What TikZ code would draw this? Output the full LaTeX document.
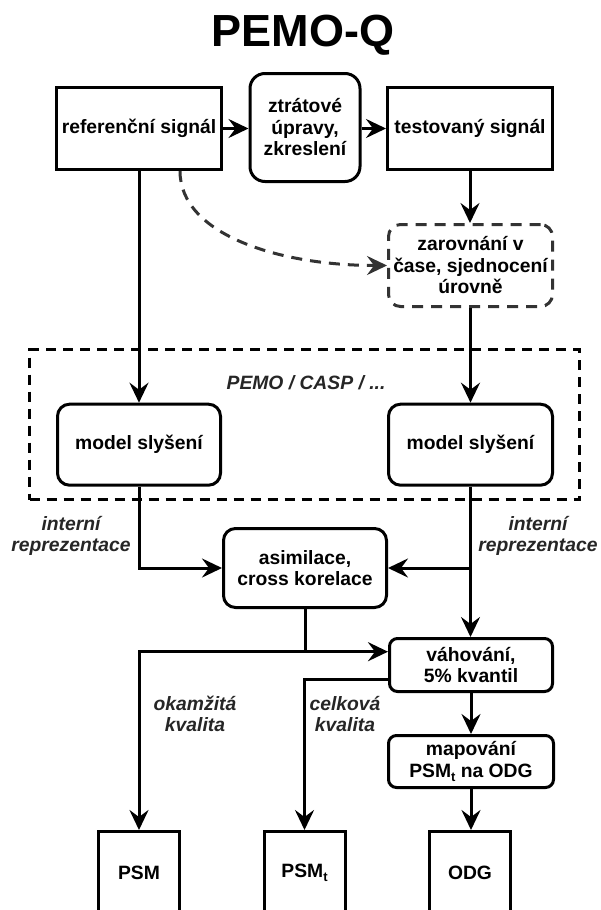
\documentclass[tikz,border=0pt]{standalone}
\usepackage{fontspec}
\setmainfont{Liberation Sans}
\usetikzlibrary{arrows.meta,calc}
\definecolor{dgray}{RGB}{51,51,51}
\newcommand{\subt}{\raisebox{-0.35ex}{\fontsize{13}{13}\selectfont t}}
\tikzset{
  txt/.style={font=\fontsize{19.3}{21.5}\selectfont\bfseries, align=center, inner sep=0pt},
  lbl/.style={font=\fontsize{19.3}{21.5}\selectfont\bfseries\itshape, align=center, inner sep=0pt, text=black!85},
  sbox/.style={txt, draw, line width=3pt, minimum width=#1},
  rbox/.style={txt, draw, line width=3pt, rounded corners=#1},
  conn/.style={line width=3pt, -{Stealth[length=20pt, width=19pt, inset=7pt]}},
  plain/.style={line width=3pt},
  grpbox/.style={draw, line width=3pt, dash pattern=on 10pt off 7pt},
  gdash/.style={draw=dgray, line width=3pt, dash pattern=on 11pt off 8pt},
}
\begin{document}
\begin{tikzpicture}[x=1pt,y=-1pt]
\clip (0,0) rectangle (601,910);
\fill[white] (0,0) rectangle (601,910);

\node[font=\fontsize{45}{50}\selectfont\bfseries, anchor=base, inner sep=0pt] (title) at (303,46.7) {PEMO-Q};

\node[sbox=165, minimum height=82] (ref) at (139,128.5) {referenční signál};
\node[rbox=15, minimum width=110, minimum height=108] (ztr) at (305,127.5) {ztrátové\\úpravy,\\zkreslení};
\node[sbox=165, minimum height=82] (test) at (470,128.5) {testovaný signál};
\node[rbox=12, gdash, text=black, minimum width=164, minimum height=82] (zar) at (470.5,265.5) {zarovnání v\\čase, sjednocení\\úrovně};

\node[grpbox, minimum width=550, minimum height=150] (grp) at (304.5,424.5) {};
\node[lbl] (pemo) at (306,383) {PEMO / CASP / ...};
\node[rbox=12, minimum width=163, minimum height=81] (mL) at (139,444.7) {model slyšení};
\node[rbox=12, minimum width=164, minimum height=81] (mR) at (470.5,444.7) {model slyšení};

\node[rbox=12, minimum width=163, minimum height=79] (asim) at (305,568) {asimilace,\\cross korelace};
\node[rbox=8, minimum width=163, minimum height=53] (vah) at (471,665) {váhování,\\5\% kvantil};
\node[rbox=8, minimum width=165, minimum height=52] (map) at (471,761.5) {mapování\\PSM\subt{} na ODG};

\node[sbox=81, minimum height=83] (psm) at (139,873) {PSM};
\node[sbox=81, minimum height=83] (psmt) at (304.5,873) {PSM\subt};
\node[sbox=81, minimum height=83] (odg) at (470,873) {ODG};

\node[lbl] (l1) at (71,536) {interní\\reprezentace};
\node[lbl] (l2) at (538,536) {interní\\reprezentace};
\node[lbl] (l3) at (195,714) {okamžitá\\kvalita};
\node[lbl] (l4) at (345,714) {celková\\kvalita};

% connectors
\draw[conn] (ref.east) -- (ref.east -| ztr.west);
\draw[conn] (ztr.east |- test.west) -- (test.west);
\draw[conn] (test.south) -- (test.south |- zar.north);
\draw[conn, dgray, dash pattern=on 11pt off 8pt] ([xshift=41pt]ref.south) .. controls +(0,64) and +(-107,0) .. (zar.west);
\draw[conn] (ref.south) -- (ref.south |- mL.north);
\draw[conn] (zar.south) -- (mR.north);
\draw[conn] (mL.south) |- (asim.west);
\coordinate (jR) at (mR.south |- asim.east);
\draw[conn] (mR.south) -- (mR.south |- vah.north);
\draw[conn] (jR) -- (asim.east);
\coordinate (vin) at ([yshift=13.3pt]vah.west);
\coordinate (jA) at (asim.south |- vin);
\draw[conn] (asim.south) |- (vin);
\draw[conn] (jA) -| (psm.north);
\draw[conn] ([yshift=-14.3pt]vah.west) -| (psmt.north);
\draw[conn] (vah.south) -- (vah.south |- map.north);
\draw[conn] (map.south) -- (map.south |- odg.north);
\end{tikzpicture}
\end{document}
